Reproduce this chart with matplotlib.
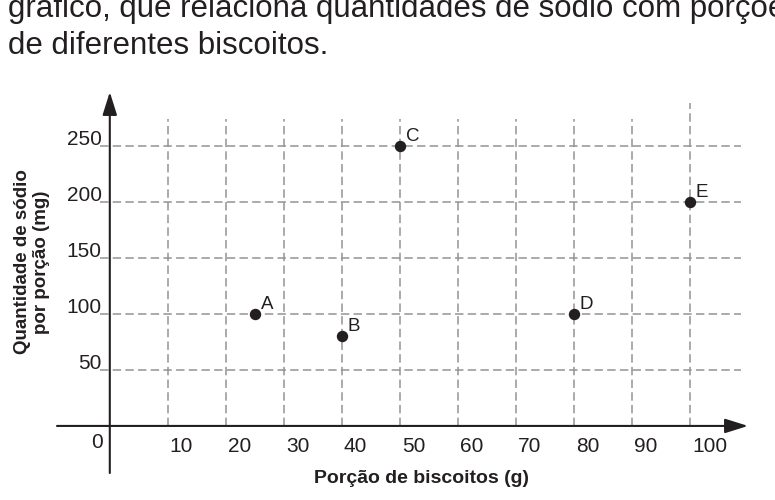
import matplotlib.pyplot as plt

plt.rcParams['font.family'] = ['Liberation Sans', 'DejaVu Sans']

# valores
labels = ['A', 'B', 'C', 'D', 'E']
porcao = [25, 40, 50, 80, 100]       # g
sodio = [100, 80, 250, 100, 200]     # mg

xticks = [10, 20, 30, 40, 50, 60, 70, 80, 90, 100]
yticks = [50, 100, 150, 200, 250]

ink = '#231f20'
grid_c = '#939393'

fig = plt.figure(figsize=(7.75, 5), dpi=100)
ax = fig.add_axes([57/775, 27/500, 691/775, 381/500])
ax.set_xlim(-9.1, 110)
ax.set_ylim(-42, 298)
ax.axis('off')

# grade tracejada
dash = dict(color=grid_c, lw=1.1, linestyle=(0, (5.5, 2.8)), zorder=1)
for y in yticks:
    ax.plot([-1.7, 108.8], [y, y], **dash)
for x in xticks:
    top = 288 if x == xticks[-1] else 274
    ax.plot([x, x], [0, top], **dash)

# eixos com setas
arrow = dict(arrowstyle='-|>,head_length=0.7,head_width=0.22', lw=1.5,
             color=ink, shrinkA=0, shrinkB=0, mutation_scale=20)
ax.annotate('', xy=(110, 0), xytext=(-9.1, 0), arrowprops=arrow, zorder=3)
ax.annotate('', xy=(0, 298), xytext=(0, -42), arrowprops=arrow, zorder=3)

# rótulos dos ticks
for x in xticks:
    ax.annotate(str(x), (x, 0), xytext=(2, -26), textcoords='offset pixels',
                ha='left', va='baseline', fontsize=15, color=ink)
ax.annotate('0', (0, 0), xytext=(-7, -22), textcoords='offset pixels',
            ha='right', va='baseline', fontsize=15, color=ink)
for y in yticks:
    ax.annotate(str(y), (0, y), xytext=(-8, 1), textcoords='offset pixels',
                ha='right', va='baseline', fontsize=15, color=ink)

# pontos
ax.plot(porcao, sodio, 'o', ms=7.2, color=ink, zorder=5)
for lab, x, y in zip(labels, porcao, sodio):
    ax.annotate(lab, (x, y), xytext=(6, 5), textcoords='offset pixels',
                ha='left', va='baseline', fontsize=13.5, color=ink)

fig.text(421/775, 1 - 483/500, 'Porção de biscoitos (g)', ha='center',
         va='baseline', fontsize=14, fontweight='bold', color=ink)
fig.text(32/775, 1 - 262/500, 'Quantidade de sódio\npor porção (mg)',
         rotation=90, ha='center', va='center', multialignment='center',
         fontsize=13.5, fontweight='bold', color=ink)

# texto do enunciado (cortado no topo, como no original)
fig.text(8/775, 1 - 17/500, 'gráfico, que relaciona quantidades de sódio com porções',
         va='baseline', fontsize=22.5, color=ink)
fig.text(8/775, 1 - 54/500, 'de diferentes biscoitos.',
         va='baseline', fontsize=22.5, color=ink)

fig.savefig('out.png', dpi=100)
